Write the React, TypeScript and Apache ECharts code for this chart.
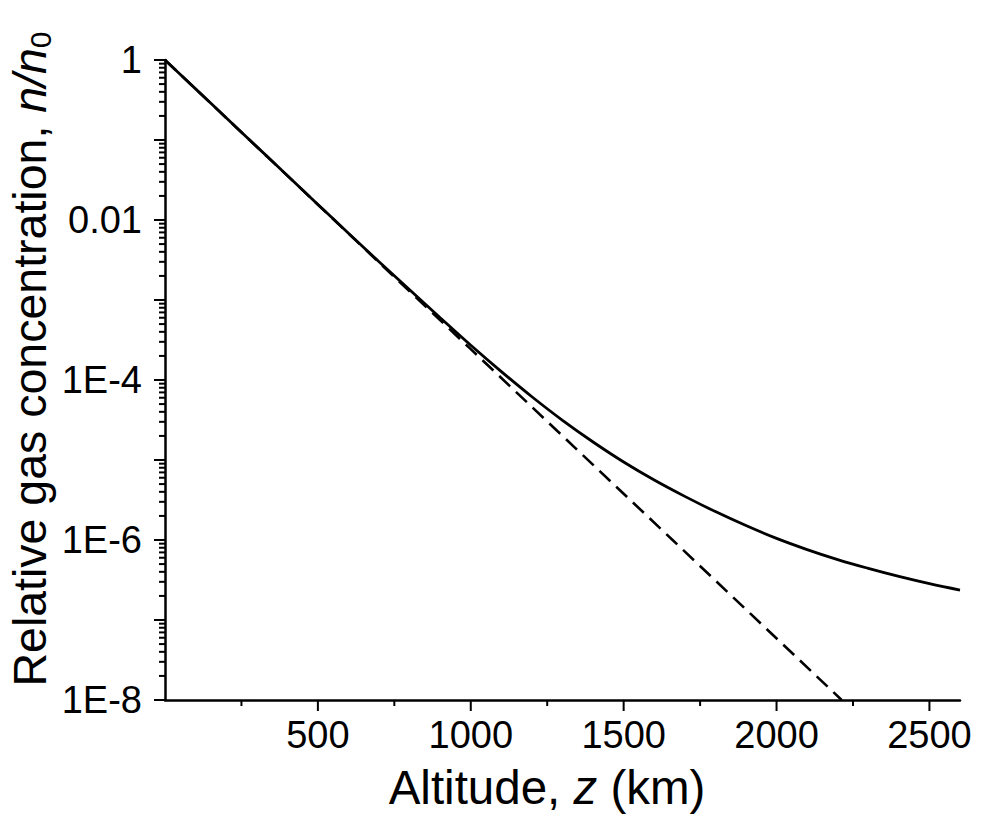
import React, { useEffect, useRef } from 'react';
import * as echarts from 'echarts';

// Altitude (km) grid for the solid curve
const ALTITUDE_KM = [0, 100, 200, 300, 400, 500, 600, 700, 800, 900, 1000, 1100, 1200, 1300, 1400, 1500, 1600, 1700, 1800, 1900, 2000, 2100, 2200, 2300, 2400, 2500, 2600];
// Relative concentration n/n0 (solid curve)
const SOLID_N = [1, 0.4355, 0.1897, 0.0826, 0.036, 0.01567, 0.00684, 0.003006, 0.00134, 6.0e-4, 2.72e-4, 1.274e-4, 6.17e-5, 3.13e-5, 1.679e-5, 9.44e-6, 5.62e-6, 3.51e-6, 2.265e-6, 1.514e-6, 1.047e-6, 7.59e-7, 5.69e-7, 4.42e-7, 3.51e-7, 2.85e-7, 2.37e-7];
// Dashed curve (straight on log scale)
const DASHED_ALT = [0, 1000, 1660, 2213];
const DASHED_N = [1, 2.43e-4, 1e-6, 1e-8];

// Axis tick labels
const X_LABEL_VALUES = [500, 1000, 1500, 2000, 2500];
const X_TICK_VALUES = [250, 500, 750, 1000, 1250, 1500, 1750, 2000, 2250, 2500];
const Y_LABEL_EXP = [0, -2, -4, -6, -8];
const Y_LABEL_TEXT = ['1', '0.01', '1E-4', '1E-6', '1E-8'];
const Y_DECADES = [-8, -7, -6, -5, -4, -3, -2, -1];
const Y_MINOR_MULT = [2, 3, 4, 5, 6, 7, 8, 9];

const FONT = 'Liberation Sans, Arial, Helvetica, sans-serif';

export default function App() {
  const ref = useRef<HTMLDivElement>(null);
  useEffect(() => {
    const chart = echarts.init(ref.current!, null, { renderer: 'svg' });
    const solid = ALTITUDE_KM.map((z, i) => [z, SOLID_N[i]]);
    const dashed = DASHED_ALT.map((z, i) => [z, DASHED_N[i]]);
    const yMinor: number[][] = [];
    Y_DECADES.forEach((e) => Y_MINOR_MULT.forEach((m) => yMinor.push([0, m * Math.pow(10, e)])));
    const xTicks = X_TICK_VALUES.map((v) => [v, 1e-8]);

    chart.setOption({
      animation: false,
      backgroundColor: '#fff',
      grid: { left: 165, top: 60, right: 48, bottom: 129, containLabel: false },
      xAxis: {
        type: 'value',
        min: 0,
        max: 2600,
        interval: 500,
        axisLine: { show: true, lineStyle: { color: '#000', width: 2.5 } },
        axisTick: { show: false },
        minorTick: { show: false },
        splitLine: { show: false },
        axisLabel: {
          margin: 16,
          fontSize: 38,
          fontFamily: FONT,
          color: '#000',
          formatter: (v: number) => (X_LABEL_VALUES.indexOf(v) >= 0 ? String(v) : ''),
        },
      },
      yAxis: {
        type: 'log',
        logBase: 10,
        min: 1e-8,
        max: 1,
        interval: 1,
        axisLine: { show: true, lineStyle: { color: '#000', width: 2.5 } },
        axisTick: { show: true, inside: false, length: 11, lineStyle: { color: '#000', width: 2 } },
        splitLine: { show: false },
        axisLabel: {
          margin: 23,
          fontSize: 38,
          fontFamily: FONT,
          color: '#000',
          formatter: (v: number) => {
            const e = Math.round(Math.log10(v));
            const i = Y_LABEL_EXP.indexOf(e);
            return i >= 0 ? Y_LABEL_TEXT[i] : '';
          },
        },
      },
      graphic: [
        {
          type: 'text',
          x: 547,
          y: 811,
          style: {
            text: '{r|Altitude, }{i|z}{r| (km)}',
            align: 'center',
            verticalAlign: 'bottom',
            rich: {
              r: { fontSize: 47.5, fontFamily: FONT, fill: '#000' },
              i: { fontSize: 47.5, fontFamily: FONT, fontStyle: 'italic', fill: '#000' },
            },
          },
        },
        {
          type: 'text',
          x: 30,
          y: 359,
          rotation: Math.PI / 2,
          style: {
            text: '{r|Relative gas concentration, }{i|n/n}{s|0}',
            align: 'center',
            verticalAlign: 'middle',
            rich: {
              r: { fontSize: 46.5, lineHeight: 50, fontFamily: FONT, fill: '#000' },
              i: { fontSize: 46.5, lineHeight: 50, fontFamily: FONT, fontStyle: 'italic', fill: '#000' },
              s: { fontSize: 30, lineHeight: 30, fontFamily: FONT, fill: '#000', verticalAlign: 'bottom', padding: [14, 0, 0, 0] },
            },
          },
        },
      ],
      series: [
        {
          type: 'line',
          data: solid,
          smooth: 0.4,
          showSymbol: false,
          lineStyle: { color: '#000', width: 2.8, type: 'solid' },
          z: 3,
        },
        {
          type: 'line',
          data: dashed,
          showSymbol: false,
          lineStyle: { color: '#000', width: 2.6, type: [15, 8] },
          z: 2,
        },
        {
          type: 'custom',
          clip: false,
          data: yMinor,
          renderItem: (params: any, api: any) => {
            const p = api.coord([api.value(0), api.value(1)]);
            return {
              type: 'line',
              shape: { x1: p[0] - 6, y1: p[1], x2: p[0], y2: p[1] },
              style: { stroke: '#000', lineWidth: 2 },
            };
          },
          z: 4,
        },
        {
          type: 'custom',
          clip: false,
          data: xTicks,
          renderItem: (params: any, api: any) => {
            const v = api.value(0);
            const p = api.coord([v, api.value(1)]);
            const len = v % 500 === 0 ? 11 : 6;
            return {
              type: 'line',
              shape: { x1: p[0], y1: p[1], x2: p[0], y2: p[1] + len },
              style: { stroke: '#000', lineWidth: 2 },
            };
          },
          z: 4,
        },
      ],
    });
    return () => chart.dispose();
  }, []);
  return (
    <div
      ref={ref}
      style={{ position: 'fixed', left: 0, top: 0, width: 1008, height: 829, background: '#fff' }}
    />
  );
}
